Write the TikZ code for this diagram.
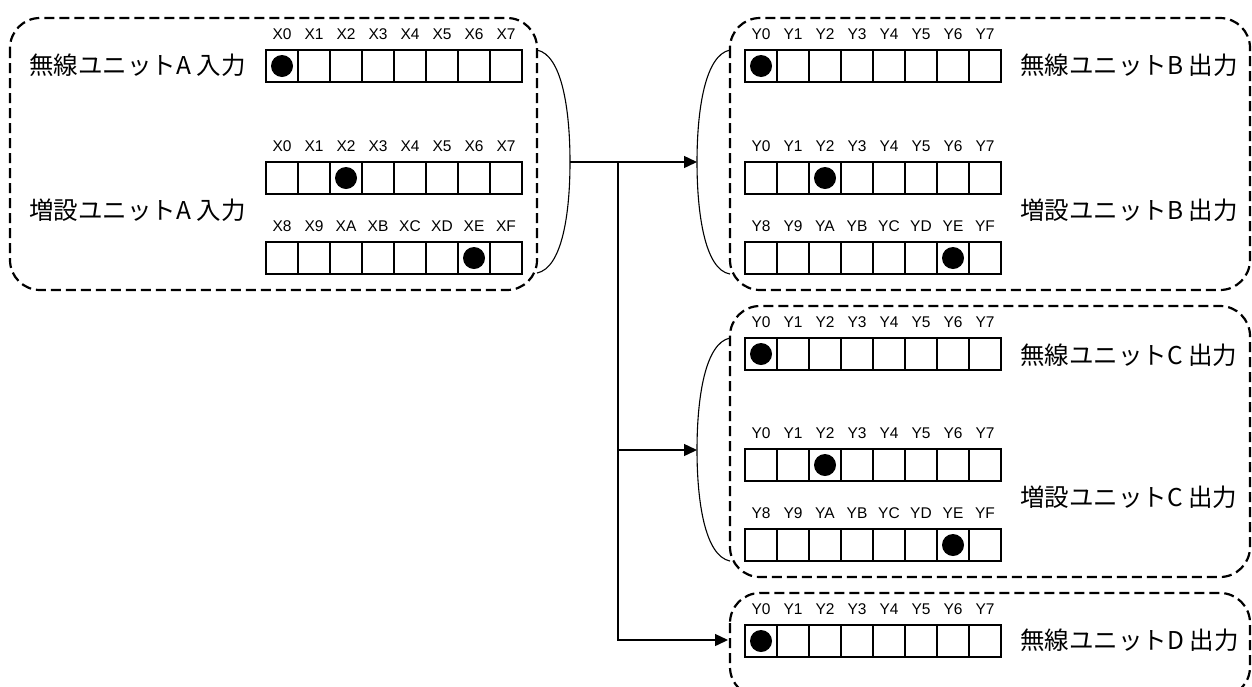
\documentclass[tikz,border=0pt]{standalone}
\usepackage{fontspec}
\setmainfont{Liberation Sans}
\newfontfamily\jpfont{Noto Sans CJK JP}
\usetikzlibrary{
  arrows.meta,
  positioning
}

% one row of 8 bit cells: name, left x, top y, labels, marked bit
\newcommand{\bitrow}[5]{%
  \foreach \lab [count=\k from 0] in {#4} {
    \node[cell] (#1-\k) at ({#2+16+32*\k},{#3+16}) {};
    \node[bitlab] (#1-l\k) at ({#2+16+32*\k},{#3-16}) {\lab};
  }
  \fill (#1-#5) circle (11);
}

\begin{document}
\begin{tikzpicture}[x=1pt, y=-1pt,
  cell/.style={draw, line width=1.4pt, minimum size=32pt, inner sep=0pt},
  bitlab/.style={font=\fontsize{15.5}{16}\selectfont, inner sep=0pt},
  unitlab/.style={font=\jpfont\fontsize{24.5}{25}\selectfont, inner sep=0pt, anchor=west},
  groupbox/.style={line width=2.2pt, dash pattern=on 10pt off 5pt, rounded corners=30pt},
  brace/.style={line width=1.1pt},
  link/.style={line width=1.4pt, -{Triangle[length=13pt,width=12pt]}}]
  \path[use as bounding box, clip] (0,0) rectangle (1252,686);

  % unit A (input side)
  \draw[groupbox] (10,18) rectangle (537,290);
  \node[unitlab] (wirelessA) at (29,65) {無線ユニットA 入力};
  \node[unitlab] (extA) at (29,210) {増設ユニットA 入力};
  \bitrow{a1}{266}{50}{X0,X1,X2,X3,X4,X5,X6,X7}{0}
  \bitrow{a2}{266}{162}{X0,X1,X2,X3,X4,X5,X6,X7}{2}
  \bitrow{a3}{266}{242}{X8,X9,XA,XB,XC,XD,XE,XF}{6}
  \draw[brace] (537,50) .. controls (562,55) and (570,110) .. (570,162)
    .. controls (570,214) and (562,268) .. (537,273);
  \coordinate (braceA) at (570,162);

  % unit B
  \draw[groupbox] (730,18) rectangle (1250,290);
  \node[unitlab] (wirelessB) at (1020,65) {無線ユニットB 出力};
  \node[unitlab] (extB) at (1020,210) {増設ユニットB 出力};
  \bitrow{b1}{745}{50}{Y0,Y1,Y2,Y3,Y4,Y5,Y6,Y7}{0}
  \bitrow{b2}{745}{162}{Y0,Y1,Y2,Y3,Y4,Y5,Y6,Y7}{2}
  \bitrow{b3}{745}{242}{Y8,Y9,YA,YB,YC,YD,YE,YF}{6}
  \draw[brace] (730,50) .. controls (705,55) and (697,110) .. (697,162)
    .. controls (697,214) and (705,270) .. (730,274);
  \coordinate (braceB) at (697,162);

  % unit C
  \draw[groupbox] (730,306) rectangle (1250,577);
  \node[unitlab] (wirelessC) at (1020,355) {無線ユニットC 出力};
  \node[unitlab] (extC) at (1020,497) {増設ユニットC 出力};
  \bitrow{c1}{745}{338}{Y0,Y1,Y2,Y3,Y4,Y5,Y6,Y7}{0}
  \bitrow{c2}{745}{449}{Y0,Y1,Y2,Y3,Y4,Y5,Y6,Y7}{2}
  \bitrow{c3}{745}{529}{Y8,Y9,YA,YB,YC,YD,YE,YF}{6}
  \draw[brace] (730,338) .. controls (705,343) and (697,398) .. (697,450)
    .. controls (697,502) and (705,556) .. (730,561);
  \coordinate (braceC) at (697,450);

  % unit D
  \draw[groupbox] (730,593) rectangle (1250,697);
  \node[unitlab] (wirelessD) at (1020,640) {無線ユニットD 出力};
  \bitrow{d1}{745}{625}{Y0,Y1,Y2,Y3,Y4,Y5,Y6,Y7}{0}
  \coordinate (entryD) at (728,640);

  % connections
  \coordinate (split) at (618,162);
  \draw[link] (braceA) -- (braceB);
  \draw[link] (split) |- (braceC);
  \draw[link] (split) |- (entryD);
\end{tikzpicture}
\end{document}
